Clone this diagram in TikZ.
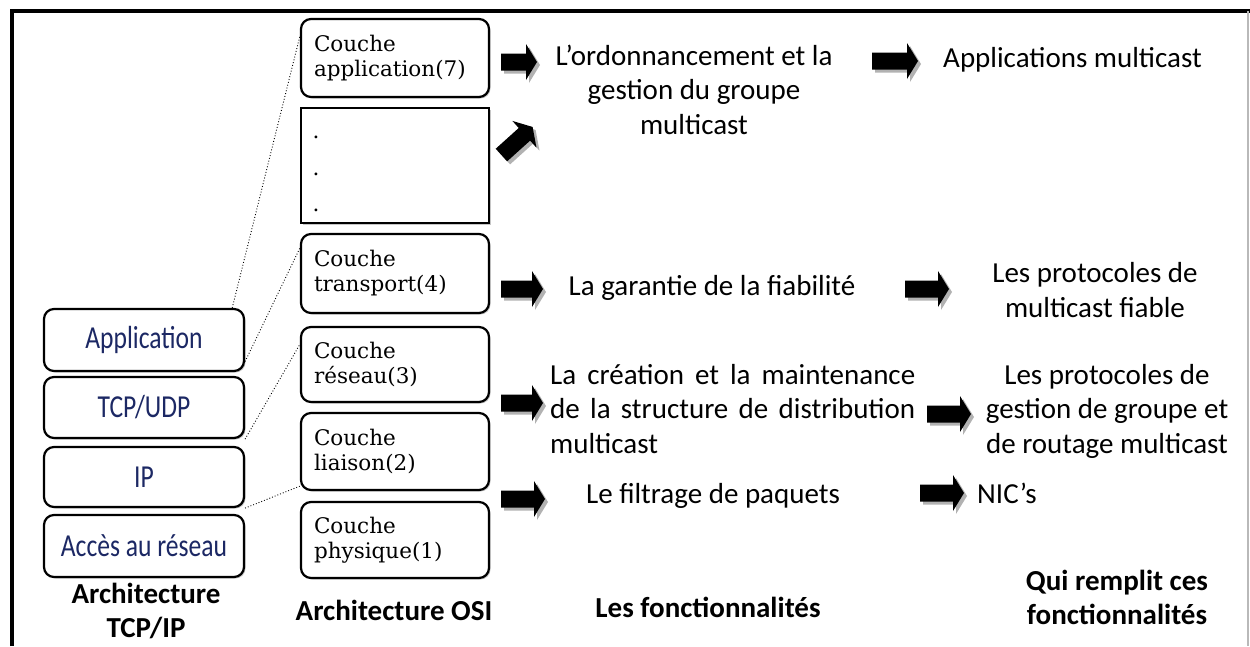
\documentclass[tikz,border=0pt]{standalone}
\usepackage{fontspec}
\setmainfont{Carlito}
\newfontfamily\layerfont{DejaVu Serif}
\newfontfamily\tcpfont[FakeStretch=0.8]{Carlito}
\usetikzlibrary{shadows}
\definecolor{tcpnavy}{RGB}{28,40,100}
% block arrow: centre x, centre y, direction (deg), half length
\newcommand{\blockarr}[4]{%
  \fill[arrowshade] [shift={({#1+3},{#2+3})}, rotate=#3]
    (-#4,-8.5) -- ({#4-11},-8.5) -- ({#4-11},-18) -- (#4,0)
    -- ({#4-11},18) -- ({#4-11},8.5) -- (-#4,8.5) -- cycle;
  \fill[arrowbody] [shift={(#1,#2)}, rotate=#3]
    (-#4,-8.5) -- ({#4-11},-8.5) -- ({#4-11},-18) -- (#4,0)
    -- ({#4-11},18) -- ({#4-11},8.5) -- (-#4,8.5) -- cycle;}
\begin{document}
\begin{tikzpicture}[x=1pt,y=-1pt,
  osibox/.style={draw=black, line width=2.2pt, rounded corners=10pt, fill=white,
    minimum width=188pt, minimum height=#1, text width=162pt, align=left,
    inner sep=0pt, font=\layerfont\fontsize{21.5}{25}\selectfont,
    general shadow={fill=gray!45, shadow xshift=1.5pt, shadow yshift=-1.5pt}},
  tcpbox/.style={draw=black, line width=2.2pt, rounded corners=10pt, fill=white,
    minimum width=200pt, minimum height=#1, inner sep=0pt, text=tcpnavy,
    font=\tcpfont\fontsize{32}{36}\selectfont,
    general shadow={fill=gray!45, shadow xshift=1.5pt, shadow yshift=-1.5pt}},
  arrowbody/.style={fill=black},
  arrowshade/.style={fill=gray!60},
  coltext/.style={font=\fontsize{29}{34.5}\selectfont, inner sep=0pt},
  headtext/.style={font=\bfseries\fontsize{29}{34}\selectfont, inner sep=0pt},
  maplink/.style={dotted, line width=0.9pt, black}]
\useasboundingbox (0,0) rectangle (1250,646);

% outer frame
\draw[line width=4pt] (12,646) -- (12,11) -- (1250,11);
\draw[gray!55, line width=1.5pt] (1248,11) -- (1248,646);

% OSI model
\node[osibox=78pt] (oApp) at (395,58) {Couche\\application(7)};
\node[draw=black, line width=2.2pt, fill=white, minimum width=188pt,
  minimum height=115pt, inner sep=0pt,
  general shadow={fill=gray!45, shadow xshift=1.5pt, shadow yshift=-1.5pt}]
  (oDots) at (395,165.5) {};
\node[font=\layerfont\fontsize{21.5}{25}\selectfont, inner sep=0pt] (d1) at (316,137) {.};
\node[font=\layerfont\fontsize{21.5}{25}\selectfont, inner sep=0pt] (d2) at (316,174) {.};
\node[font=\layerfont\fontsize{21.5}{25}\selectfont, inner sep=0pt] (d3) at (316,210) {.};
\node[osibox=79pt] (oTrans) at (395,273.5) {Couche\\transport(4)};
\node[osibox=75pt] (oRes) at (395,364.5) {Couche\\réseau(3)};
\node[osibox=77pt] (oLia) at (395,451.5) {Couche\\liaison(2)};
\node[osibox=76pt] (oPhy) at (395,540) {Couche\\physique(1)};

% TCP/IP model
\node[tcpbox=62pt] (tApp) at (144,340) {Application};
\node[tcpbox=61pt] (tUdp) at (144,407.5) {TCP/UDP};
\node[tcpbox=60pt] (tIp) at (144,477) {IP};
\node[tcpbox=62pt] (tAcc) at (144,546) {Accès au réseau};

% correspondence between the two models
\draw[maplink] (tApp.20) -- (oApp.167);
\draw[maplink] (tApp.-12) -- (oTrans.165);
\draw[maplink] (tUdp.south east) -- (oRes.168);
\draw[maplink] (tIp.south east) -- (oLia.200);

% block arrows
\blockarr{519}{62}{0}{18}
\blockarr{517}{141}{42}{21}
\blockarr{522}{289}{0}{21}
\blockarr{522}{403}{0}{21}
\blockarr{523}{499}{0}{22}
\blockarr{895}{61}{0}{23}
\blockarr{927}{289}{0}{22}
\blockarr{949}{414}{0}{22}
\blockarr{942}{493}{0}{22}

% functions
\node[coltext, anchor=base, align=center] (fOrd) at (694,134)
  {L’ordonnancement et la\\gestion du groupe\\multicast};
\node[coltext, anchor=base] (fGar) at (712,295) {La garantie de la fiabilité};
\node[coltext, anchor=base west, align=left] (fCrea) at (550,453)
  {\makebox[365pt][s]{La création et la maintenance}\\
   \makebox[365pt][s]{de la structure de distribution}\\multicast};
\node[coltext, anchor=base] (fFil) at (713,503) {Le filtrage de paquets};

% who provides them
\node[coltext, anchor=base west] (wApp) at (943,67) {Applications multicast};
\node[coltext, anchor=base, align=center] (wFia) at (1095,317)
  {Les protocoles de\\multicast fiable};
\node[coltext, anchor=base, align=center] (wGes) at (1107,453)
  {Les protocoles de\\gestion de groupe et\\de routage multicast};
\node[coltext, anchor=base west] (wNic) at (977,503) {NIC’s};

% column headings
\node[headtext, anchor=base, align=center] (hTcp) at (146,637) {Architecture\\TCP/IP};
\node[headtext, anchor=base] (hOsi) at (394,620) {Architecture OSI};
\node[headtext, anchor=base] (hFon) at (708,617) {Les fonctionnalités};
\node[headtext, anchor=base, align=center] (hQui) at (1117,624)
  {Qui remplit ces\\fonctionnalités};
\end{tikzpicture}
\end{document}
